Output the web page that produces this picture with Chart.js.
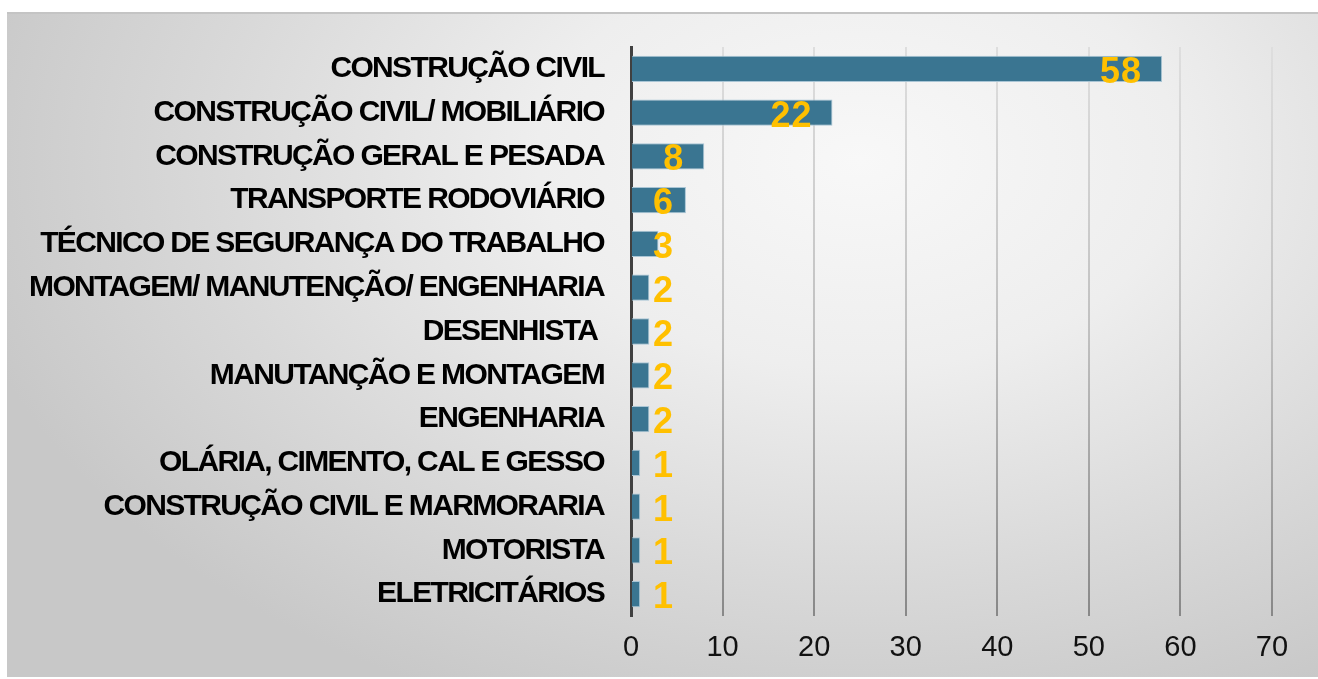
<!DOCTYPE html>
<html>
<head>
<meta charset="utf-8">
<script src="https://cdn.jsdelivr.net/npm/chart.js@4.4.1/dist/chart.umd.min.js"></script>
<style>
  html, body { margin: 0; padding: 0; background: #fff; }
  #wrap {
    position: absolute; left: 7px; top: 12px; width: 1311px; height: 665px;
    border-top: 2px solid #c4c4c4;
    box-sizing: border-box;
    background: radial-gradient(ellipse 70% 90% at 65% 22%, #f8f8f8 0%, #eeeeee 35%, #d9d9d9 70%, #c8c8c8 100%);
  }
  #chart { position: absolute; left: 0; top: 0; }
</style>
</head>
<body>
<div id="wrap"><canvas id="chart" width="1311" height="663"></canvas></div>
<script>
// dados
const categorias = [
  "CONSTRUÇÃO CIVIL",
  "CONSTRUÇÃO CIVIL/ MOBILIÁRIO",
  "CONSTRUÇÃO GERAL E PESADA",
  "TRANSPORTE RODOVIÁRIO",
  "TÉCNICO DE SEGURANÇA DO TRABALHO",
  "MONTAGEM/ MANUTENÇÃO/ ENGENHARIA",
  "DESENHISTA ",
  "MANUTANÇÃO E MONTAGEM",
  "ENGENHARIA",
  "OLÁRIA, CIMENTO, CAL E GESSO",
  "CONSTRUÇÃO CIVIL E MARMORARIA",
  "MOTORISTA",
  "ELETRICITÁRIOS",
];
const valores = [58, 22, 8, 6, 3, 2, 2, 2, 2, 1, 1, 1, 1];
const xMax = 70;
const xStep = 10;

const FONT = '"Liberation Sans", Arial, sans-serif';

/** só os rótulos das categorias ficam apertados (estilo Excel) */
const tightYLabels = {
  id: "tightYLabels",
  afterUpdate(chart) {
    const ys = chart.scales.y;
    if (!ys || ys._tightPatched) return;
    const orig = ys.drawLabels.bind(ys);
    ys.drawLabels = (area) => {
      chart.ctx.save();
      chart.ctx.letterSpacing = "-1.65px";
      orig(area);
      chart.ctx.restore();
    };
    ys._tightPatched = true;
  },
};

/** rótulos de valor amarelos na ponta das barras */
const valueLabels = {
  id: "valueLabels",
  afterDatasetsDraw(chart) {
    const ctx = chart.ctx;
    const meta = chart.getDatasetMeta(0);
    ctx.save();
    ctx.font = `bold 36px ${FONT}`;
    ctx.letterSpacing = "1px";
    ctx.fillStyle = "#ffc000";
    ctx.textAlign = "left";
    ctx.textBaseline = "alphabetic";
    meta.data.forEach((bar, i) => {
      const txt = String(valores[i]);
      const w = ctx.measureText(txt).width;
      const left = Math.max(bar.x - 20 - w, bar.base + 21);
      ctx.fillText(txt, left, bar.y + 14);
    });
    ctx.restore();
  },
};

function gridGradient(context) {
  const chart = context.chart;
  const area = chart.chartArea;
  if (!area) return "#c0c0c0";
  const g = chart.ctx.createLinearGradient(0, area.top, 0, area.bottom);
  g.addColorStop(0, "#dedede");
  g.addColorStop(0.5, "#c0c0c0");
  g.addColorStop(1, "#888888");
  return g;
}

const ctx = document.getElementById("chart").getContext("2d");
new Chart(ctx, {
  type: "bar",
  data: {
    labels: categorias,
    datasets: [
      {
        data: valores,
        backgroundColor: "#3a7591",
        borderColor: "#a9c5d5",
        borderWidth: 1,
        borderSkipped: "start",
        categoryPercentage: 1,
        barPercentage: 0.6,
      },
    ],
  },
  options: {
    indexAxis: "y",
    responsive: false,
    animation: false,
    events: [],
    layout: { padding: { left: 0, right: 46, top: 33, bottom: 0 } },
    plugins: {
      legend: { display: false },
      tooltip: { enabled: false },
      title: { display: false },
    },
    scales: {
      x: {
        min: 0,
        max: xMax,
        ticks: {
          stepSize: xStep,
          padding: 15,
          color: "#111",
          font: { family: FONT, size: 29 },
        },
        grid: { color: gridGradient, lineWidth: 2, drawTicks: false },
        border: { display: false },
        afterFit(scale) {
          scale.height = 61;
          scale.paddingLeft = 0;
          scale.paddingRight = 0;
        },
      },
      y: {
        ticks: {
          padding: 27,
          color: "#000",
          font: { family: FONT, size: 30, weight: "bold" },
        },
        grid: { display: false, drawTicks: false },
        border: { color: "#404040", width: 3 },
        afterFit(scale) {
          scale.width = 624;
          scale.paddingTop = 0;
          scale.paddingBottom = 0;
        },
      },
    },
  },
  plugins: [tightYLabels, valueLabels],
});
</script>
</body>
</html>
